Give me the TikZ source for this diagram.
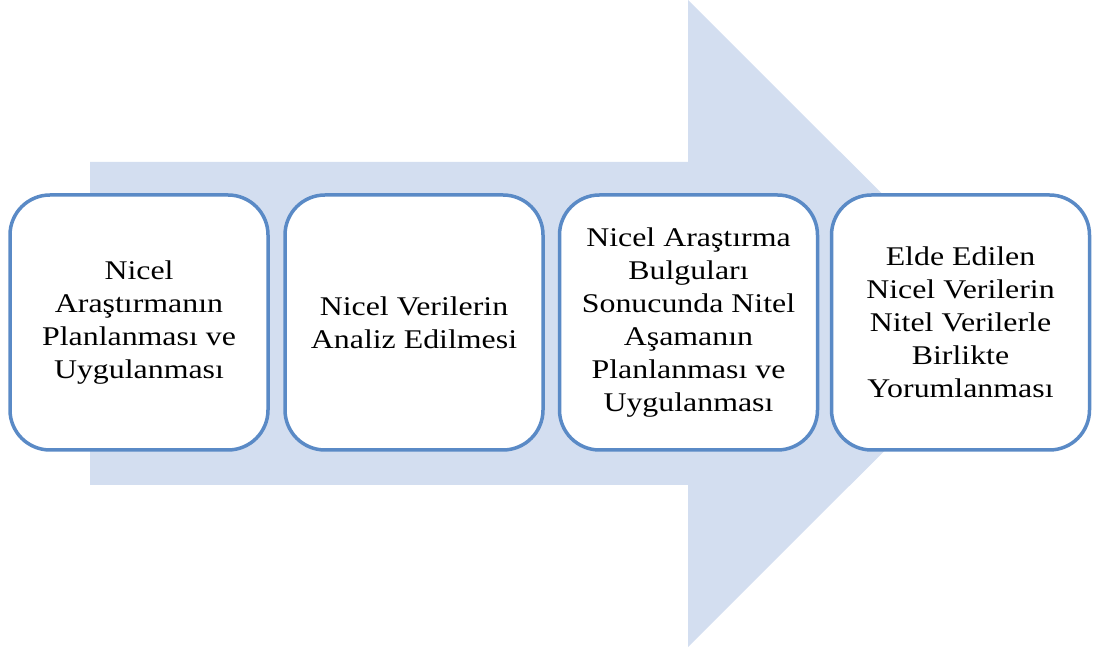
\documentclass[tikz,border=0pt]{standalone}
\usepackage{fontspec}
\setmainfont{Liberation Serif}[FakeStretch=1.18]
\definecolor{arrowfill}{HTML}{D3DEF0}
\definecolor{boxline}{HTML}{5A8AC6}
\begin{document}
\begin{tikzpicture}[x=1pt, y=1pt, every text node part/.style={align=center},
    stage/.style={draw=boxline, line width=3.5pt, fill=white, rounded corners=40pt,
        minimum width=258pt, minimum height=255pt, inner sep=0pt,
        font=\fontsize{27}{33}\selectfont}]
        \useasboundingbox (0, 0) rectangle (1096, 650);

        % big arrow in the background
        \fill[arrowfill] (90, 165) -- (90, 488) -- (688, 488) -- (688, 650) -- (1012, 326.5) -- (688, 3) -- (688, 165) -- cycle;

        \node[stage](plan) at (139, 327.5){Nicel\\Araştırmanın\\Planlanması ve\\Uygulanması};
        \node[stage](analiz) at (414, 327.5){Nicel Verilerin\\Analiz Edilmesi};
        \node[stage](nitel) at (688.5, 327.5){Nicel Araştırma\\Bulguları\\Sonucunda Nitel\\Aşamanın\\Planlanması ve\\Uygulanması};
        \node[stage](yorum) at (960.5, 327.5){Elde Edilen\\Nicel Verilerin\\Nitel Verilerle\\Birlikte\\Yorumlanması};

    \end{tikzpicture}
\end{document}
